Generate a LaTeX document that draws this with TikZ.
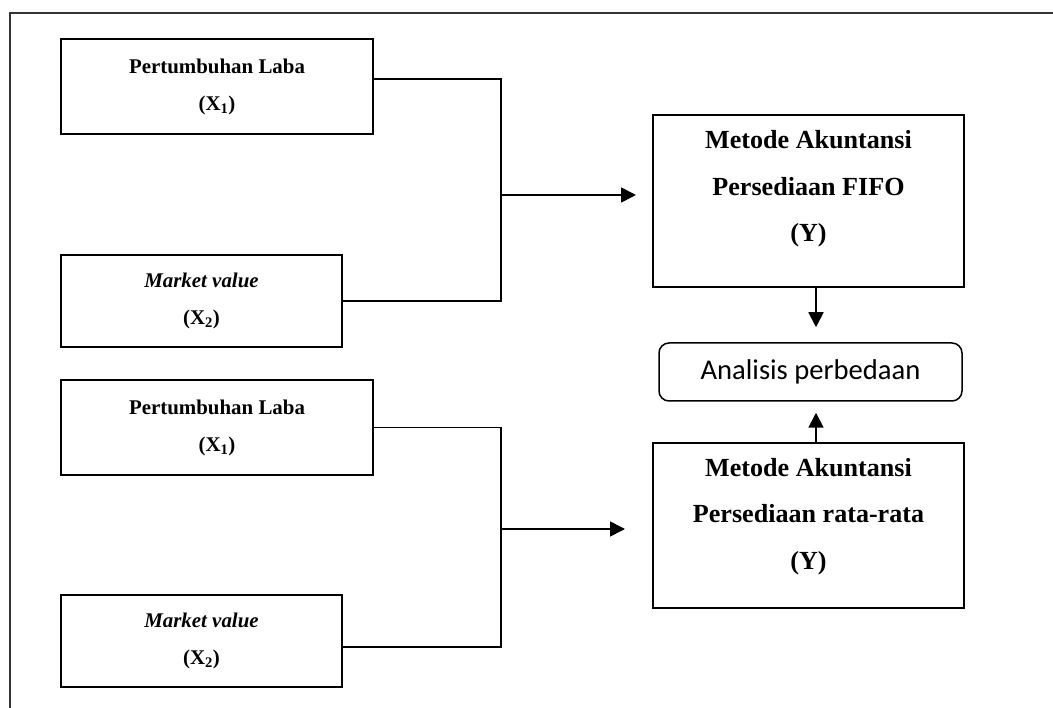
\documentclass[tikz,border=0pt]{standalone}
\usepackage{fontspec}
\setmainfont{Liberation Serif}
\newfontfamily\calibri{Carlito}
\usetikzlibrary{arrows.meta}
\tikzset{
  kotak/.style={draw, line width=2pt, minimum width=312pt, minimum height=95pt, inner sep=0pt, align=center, font=\fontsize{20.9}{37}\selectfont\bfseries},
  kotakY/.style={draw, line width=2pt, minimum width=311pt, inner sep=0pt},
  teksY/.style={align=center, inner sep=0pt, font=\fontsize{26.1}{46.5}\selectfont\bfseries},
  garis/.style={line width=1.7pt},
  panah/.style={line width=1.7pt, -{Triangle[length=15pt,width=15pt]}}
}
\begin{document}
\begin{tikzpicture}[x=1pt,y=-1pt]
\useasboundingbox (0,0) rectangle (1053,708);
\draw[line width=1.5pt, black!80] (1053,13) -- (10,13) -- (10,708);
\node[kotak] (laba1) at (217,87) {Pertumbuhan Laba\\(X\textsubscript{1})};
\node[kotak, minimum width=281pt, minimum height=92pt] (mv1) at (201.5,301) {\textit{Market value}\\(X\textsubscript{2})};
\node[kotak] (laba2) at (217,427.5) {Pertumbuhan Laba\\(X\textsubscript{1})};
\node[kotak, minimum width=281pt, minimum height=92pt] (mv2) at (201.5,641) {\textit{Market value}\\(X\textsubscript{2})};
\node[kotakY, minimum height=172pt] (fifo) at (808.5,201) {};
\node[teksY] (fifoteks) at ([yshift=12pt]fifo.center) {Metode Akuntansi\\Persediaan FIFO\\(Y)};
\node[kotakY, minimum height=165pt] (rata) at (808.5,525.5) {};
\node[teksY] (rateks) at ([yshift=9pt]rata.center) {Metode Akuntansi\\Persediaan rata-rata\\(Y)};
\node[draw, line width=1.5pt, rounded corners=10pt, minimum width=303pt, minimum height=58pt, font=\calibri\fontsize{28.6}{34}\selectfont] (analisis) at (810.5,372) {Analisis perbedaan};
\coordinate (gabung1) at (501,195);
\coordinate (gabung2) at (501,529);
\draw[garis] ([yshift=8pt]laba1.east) -| (gabung1) |- (mv1.east);
\draw[garis] (laba2.east) -| (gabung2) |- ([yshift=-6pt]mv2.east);
\draw[panah, shorten >=16pt] (gabung1) -- (gabung1 -| fifo.west);
\draw[panah, shorten >=27pt] (gabung2) -- (gabung2 -| rata.west);
\draw[panah, shorten >=15pt] ([xshift=7.5pt]fifo.south) -- ([xshift=7.5pt]fifo.south |- analisis.north);
\draw[panah, shorten >=11pt] ([xshift=7.5pt]rata.north) -- ([xshift=7.5pt]rata.north |- analisis.south);
\end{tikzpicture}
\end{document}
